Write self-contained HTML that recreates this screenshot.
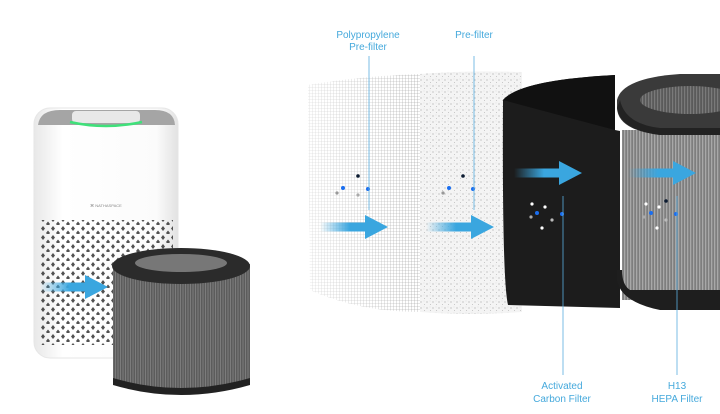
<!DOCTYPE html>
<html><head><meta charset="utf-8"><style>
html,body{margin:0;padding:0;background:#fff;width:720px;height:414px;overflow:hidden}
svg text{font-family:"Liberation Sans",sans-serif;font-size:10px;fill:#45a9dc;text-anchor:middle}
</style></head><body>
<svg width="720" height="414" viewBox="0 0 720 414" xmlns="http://www.w3.org/2000/svg">
<defs>
<pattern id="grid" width="3" height="3" patternUnits="userSpaceOnUse"><path d="M0 0H3M0 0V3" stroke="#999" stroke-width="0.6"/></pattern>
<pattern id="speck" width="6" height="6" patternUnits="userSpaceOnUse"><rect width="6" height="6" fill="#f4f4f4"/><circle cx="1" cy="2" r="0.6" fill="#aaa"/><circle cx="4.5" cy="4.5" r="0.5" fill="#bbb"/><circle cx="4" cy="1" r="0.4" fill="#c4c4c4"/></pattern>
<pattern id="pleat" width="3" height="4" patternUnits="userSpaceOnUse"><rect width="3" height="4" fill="#7e7e7e"/><rect width="1.3" height="4" fill="#a8a8a8"/></pattern>
<pattern id="pleatS" width="2.5" height="4" patternUnits="userSpaceOnUse"><rect width="2.5" height="4" fill="#5c5c5c"/><rect width="1" height="4" fill="#7c7c7c"/></pattern>
<pattern id="pleat2" width="3" height="4" patternUnits="userSpaceOnUse"><rect width="3" height="4" fill="#5a5a5a"/><rect width="1.2" height="4" fill="#7a7a7a"/></pattern>
<pattern id="holes" width="10" height="9" patternUnits="userSpaceOnUse"><path d="M3 1l2 2.5-2 2.5-2-2.5z" fill="#333"/><path d="M8 5.5l2 2.5-2 2.5-2-2.5z" fill="#333"/></pattern>
<linearGradient id="arr" x1="0" x2="1"><stop offset="0" stop-color="#3aa6df" stop-opacity="0"/><stop offset="0.6" stop-color="#3aa6df"/></linearGradient>
<linearGradient id="body" x1="0" x2="1"><stop offset="0" stop-color="#e8e8e8"/><stop offset="0.2" stop-color="#fff"/><stop offset="0.85" stop-color="#fbfbfb"/><stop offset="1" stop-color="#e2e2e2"/></linearGradient>
<linearGradient id="meshfade" x1="0" x2="1"><stop offset="0" stop-color="#fff" stop-opacity="0.6"/><stop offset="1" stop-color="#fff" stop-opacity="0"/></linearGradient>
<g id="arrow"><rect x="0" y="-4.5" width="50" height="9" fill="url(#arr)"/><path d="M45 -12L68 0L45 12z" fill="#3aa6df"/></g>
</defs>

<rect x="34" y="108" width="144" height="250" rx="16" fill="url(#body)" stroke="#e6e6e6"/>
<path d="M38 125 Q40 110 60 110 H155 Q174 110 175 125 Z" fill="#a5a5a5"/>
<rect x="72" y="111" width="68" height="12" rx="4" fill="#e8e8e8"/>
<path d="M70 122 Q106 130 142 122" stroke="#3fe07a" stroke-width="2.5" fill="none"/>
<text x="106" y="207" style="font-size:4px;fill:#888">⌘ NATHASPACE</text>
<rect x="40" y="220" width="133" height="125" fill="url(#holes)" opacity="0.85"/>
<path d="M113 264 V380 Q181 400 250 380 V264 Z" fill="url(#pleatS)"/>
<path d="M113 378 Q181 398 250 378 V385 Q181 405 113 385 Z" fill="#222"/>
<ellipse cx="181" cy="266" rx="69" ry="18" fill="#2b2b2b"/>
<ellipse cx="181" cy="263" rx="46" ry="9" fill="#777"/>
<use href="#arrow" x="40" y="287"/>

<path d="M308 85 Q360 76 420 74 V312 Q360 312 310 290 Z" fill="url(#grid)"/>
<path d="M308 85 Q360 76 420 74 V312 Q360 312 310 290 Z" fill="url(#meshfade)"/>
<path d="M420 74 Q470 70 522 72 V312 Q470 316 420 312 Z" fill="url(#speck)"/>
<path d="M503 100 Q520 80 615 75 V130 L620 131 V308 L508 305 Q502 280 503 100 Z" fill="#1c1c1c"/>
<path d="M503 100 Q540 110 615 130 V75 Q520 80 503 100Z" fill="#111"/>
<path d="M622 130 H720 V300 H622 Z" fill="url(#pleat)"/>
<path d="M617 270 Q612 300 660 310 H720 V290 H630 Q622 285 622 270 Z" fill="#1e1e1e"/>
<path d="M617 100 Q622 78 680 74 H720 V135 H660 Q618 130 617 108 Z" fill="#3a3a3a"/>
<ellipse cx="690" cy="100" rx="50" ry="14" fill="url(#pleat2)"/>
<path d="M617 108 Q620 130 660 135 H720 V128 H660 Q625 124 620 100Z" fill="#222"/>

<use href="#arrow" x="320" y="227"/>
<use href="#arrow" x="426" y="227"/>
<use href="#arrow" x="514" y="173"/>
<use href="#arrow" x="628" y="173"/>

<g>
<circle cx="358" cy="176" r="1.8" fill="#0b1a30"/><circle cx="343" cy="188" r="2" fill="#1a6ef0"/><circle cx="368" cy="189" r="2" fill="#1a6ef0"/><circle cx="337" cy="193" r="1.6" fill="#999"/><circle cx="358" cy="195" r="1.6" fill="#aaa"/>
<circle cx="463" cy="176" r="1.8" fill="#0b1a30"/><circle cx="449" cy="188" r="2" fill="#1a6ef0"/><circle cx="473" cy="189" r="2" fill="#1a6ef0"/><circle cx="443" cy="193" r="1.6" fill="#999"/>
<circle cx="532" cy="204" r="1.6" fill="#fff"/><circle cx="545" cy="207" r="1.6" fill="#fff"/><circle cx="537" cy="213" r="2" fill="#1a6ef0"/><circle cx="562" cy="214" r="2" fill="#1a6ef0"/><circle cx="531" cy="217" r="1.6" fill="#aaa"/><circle cx="552" cy="220" r="1.6" fill="#bbb"/><circle cx="542" cy="228" r="1.6" fill="#fff"/>
<circle cx="646" cy="204" r="1.6" fill="#fff"/><circle cx="659" cy="207" r="1.6" fill="#fff"/><circle cx="666" cy="201" r="1.8" fill="#0b1a30"/><circle cx="651" cy="213" r="2" fill="#1a6ef0"/><circle cx="676" cy="214" r="2" fill="#1a6ef0"/><circle cx="644" cy="217" r="1.6" fill="#aaa"/><circle cx="666" cy="220" r="1.6" fill="#bbb"/><circle cx="657" cy="228" r="1.6" fill="#fff"/>
</g>

<g stroke="#5aaee0" stroke-width="0.8">
<line x1="369" y1="56" x2="369" y2="210"/>
<line x1="474" y1="56" x2="474" y2="210"/>
<line x1="563" y1="196" x2="563" y2="375"/>
<line x1="677" y1="196" x2="677" y2="375"/>
</g>
<text x="368" y="38">Polypropylene</text>
<text x="368" y="50">Pre-filter</text>
<text x="474" y="38">Pre-filter</text>
<text x="562" y="389">Activated</text>
<text x="562" y="402">Carbon Filter</text>
<text x="677" y="389">H13</text>
<text x="677" y="402">HEPA Filter</text>
</svg>
</body></html>
